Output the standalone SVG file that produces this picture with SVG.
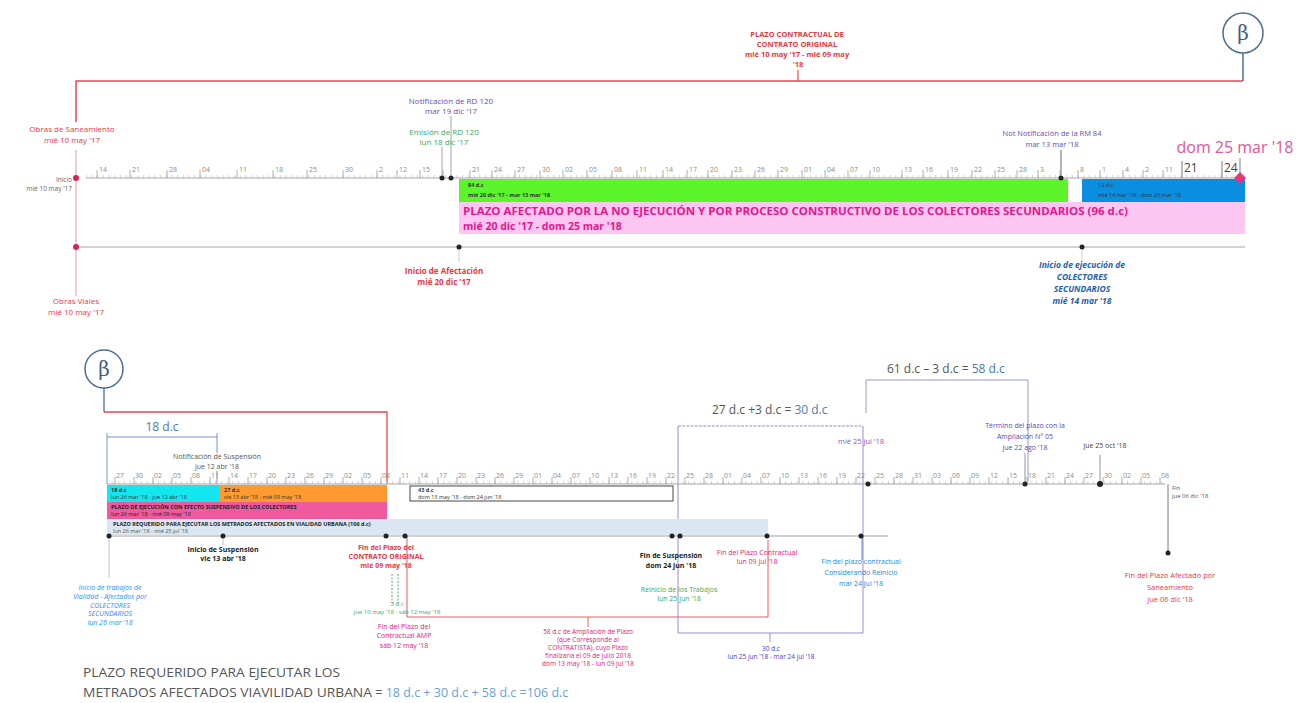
<svg xmlns="http://www.w3.org/2000/svg" width="1299" height="703" viewBox="0 0 1299 703">
<style>
text{font-family:"Open Sans","Liberation Sans",sans-serif}
.tk{font-size:7px;fill:#8c8c8c}
.ax{stroke:#a6a6a6;stroke-width:1.2;fill:none}
.tkl{stroke:#9a9a9a;stroke-width:0.8;fill:none}
.minor{stroke:#cacaca;stroke-width:3;stroke-dasharray:0.8 4.9;fill:none}
.c{text-anchor:middle}
.red{fill:#e8383d}
.mag{fill:#e4167a}
.grn{fill:#3aa85a}
.pur{fill:#6a4aa8}
.bar{font-size:5.5px;fill:#333}
.barb{font-size:5.5px;fill:#222;font-weight:bold}
.dot{fill:#222}
.rdot{fill:#d8235a}
.thin{stroke-width:0.9;fill:none}
.beta{font-family:"DejaVu Serif","Liberation Serif",serif;font-size:20px;fill:#3f5f86;text-anchor:middle}
.dim{font-size:12px;fill:#555}
.blu{fill:#4a7ac0}
</style>

<!-- ===== Upper timeline ===== -->
<g id="connectors-top">
  <path d="M76,122 V81 H1243" stroke="#e8484d" stroke-width="1.5" fill="none"/>
  <path d="M1243,53 V81" stroke="#4d6f96" stroke-width="1.5" fill="none"/>
  <path d="M798,70 V81" stroke="#e8484d" stroke-width="1.2" fill="none"/>
  <path d="M76,150 V296" stroke="#d8b0b8" stroke-width="1.2" fill="none"/>
  <path d="M451,116 V175 M442,147 V175" stroke="#9a9a9a" class="thin"/>
  <path d="M1061,150 V175" stroke="#555" class="thin"/>
  <path d="M1240,158 V173" stroke="#777" class="thin"/>
  <path d="M459,247 V262 M1082,250 V262" stroke="#ccc" class="thin"/>
</g>

<g id="beta-top">
  <circle cx="1243" cy="33" r="20" fill="#fff" stroke="#4d6f96" stroke-width="1.5"/>
  <text x="1243" y="40" class="beta">β</text>
</g>

<g id="plazo-contractual">
  <text class="c red" font-size="7.5" font-weight="bold">
    <tspan x="798" y="37">PLAZO CONTRACTUAL DE</tspan>
    <tspan x="798" y="47">CONTRATO ORIGINAL</tspan>
    <tspan x="798" y="57">mié 10 may '17 - mié 09 may</tspan>
    <tspan x="798" y="67">'18</tspan>
  </text>
</g>

<g id="obras-saneamiento">
  <text class="c red" font-size="8"><tspan x="72" y="132">Obras de Saneamiento</tspan><tspan x="72" y="143">mié 10 may '17</tspan></text>
</g>

<g id="inicio">
  <text font-size="6.5" fill="#666" text-anchor="end"><tspan x="72" y="182">Inicio</tspan><tspan x="72" y="191">mié 10 may '17</tspan></text>
</g>

<g id="notificacion-rd">
  <text class="c pur" font-size="8"><tspan x="451" y="104">Notificación de RD 120</tspan><tspan x="451" y="114">mar 19 dic '17</tspan></text>
</g>
<g id="emision-rd">
  <text class="c grn" font-size="8"><tspan x="444" y="135">Emisión de RD 120</tspan><tspan x="444" y="145">lun 18 dic '17</tspan></text>
</g>
<g id="notificacion-rm">
  <text class="c pur" font-size="7.5"><tspan x="1052" y="136">Not Notificación de la RM 84</tspan><tspan x="1052" y="147">mar 13 mar '18</tspan></text>
</g>
<g id="fecha-fin-top">
  <text x="1235" y="153" class="c" font-size="16" fill="#e4559a">dom 25 mar '18</text>
</g>

<g id="axis-top">
  <path class="minor" d="M86,176.5 H1245"/>
  <path class="ax" d="M86,178 H1245"/>
  <path class="tkl" d="M97,170V178M130,170V178M167,170V178M200,170V178M237,170V178M273,170V178M307,170V178M343,170V178M377,170V178M397,170V178M420,170V178M443,170V178M470,170V178M492,170V178M515,170V178M540,170V178M563,170V178M587,170V178M612,170V178M637,170V178M663,170V178M687,170V178M708,170V178M732,170V178M755,170V178M778,170V178M802,170V178M825,170V178M848,170V178M870,170V178M902,170V178M923,170V178M948,170V178M972,170V178M995,170V178M1017,170V178M1038,170V178M1060,170V178M1078,170V178M1100,170V178M1123,170V178M1143,170V178M1163,170V178"/>
  <path d="M1182,161V178M1222,161V178" stroke="#777" stroke-width="1" fill="none"/>
  <g class="tk">
    <text x="99" y="172">14</text><text x="132" y="172">21</text><text x="169" y="172">28</text><text x="202" y="172">04</text><text x="239" y="172">11</text><text x="275" y="172">18</text><text x="309" y="172">25</text><text x="345" y="172">30</text><text x="379" y="172">2</text><text x="399" y="172">12</text><text x="422" y="172">15</text>
    <text x="472" y="172">21</text><text x="494" y="172">24</text><text x="517" y="172">27</text><text x="542" y="172">30</text><text x="565" y="172">02</text><text x="589" y="172">05</text><text x="614" y="172">08</text><text x="639" y="172">11</text><text x="665" y="172">14</text><text x="689" y="172">17</text><text x="710" y="172">20</text><text x="734" y="172">23</text><text x="757" y="172">26</text><text x="780" y="172">29</text><text x="804" y="172">01</text><text x="827" y="172">04</text><text x="850" y="172">07</text><text x="872" y="172">10</text><text x="904" y="172">13</text><text x="925" y="172">16</text><text x="950" y="172">19</text><text x="974" y="172">22</text><text x="997" y="172">25</text><text x="1019" y="172">28</text><text x="1040" y="172">3</text><text x="1080" y="172">8</text><text x="1102" y="172">1</text><text x="1125" y="172">4</text><text x="1145" y="172">2</text><text x="1165" y="172">11</text>
  </g>
  <text x="1184" y="172" font-size="12" fill="#444">21</text>
  <text x="1224" y="172" font-size="12" fill="#444">24</text>
</g>

<g id="barra-84dc">
  <rect x="459" y="179" width="609" height="23" fill="#5cf52c"/>
  <text class="bar" font-weight="bold"><tspan x="468" y="187">84 d.c</tspan><tspan x="468" y="197">mié 20 dic '17 - mar 13 mar '18</tspan></text>
</g>
<g id="barra-12dc">
  <rect x="1082" y="179" width="163" height="23" fill="#0a8ee0"/>
  <text class="bar" fill="#123"><tspan x="1098" y="187">12 d.c</tspan><tspan x="1098" y="197">mié 14 mar '18 - dom 25 mar '18</tspan></text>
</g>
<g id="barra-plazo-afectado">
  <rect x="459" y="202" width="786" height="32" fill="#fcc6f2"/>
  <text x="463" y="215" font-size="10.5" font-weight="bold" fill="#e4168c" textLength="665" lengthAdjust="spacingAndGlyphs">PLAZO AFECTADO POR LA NO EJECUCIÓN Y POR PROCESO CONSTRUCTIVO DE LOS COLECTORES SECUNDARIOS (96 d.c)</text>
  <text x="463" y="230" font-size="10.5" font-weight="bold" fill="#e4168c">mié 20 dic '17 - dom 25 mar '18</text>
</g>

<g id="axis-top-lower">
  <path class="ax" d="M76,247 H1245"/>
</g>
<g id="hitos-top">
  <circle cx="76" cy="178" r="3" class="rdot"/>
  <circle cx="76" cy="247" r="3" class="rdot"/>
  <circle cx="442" cy="178" r="2.5" class="dot"/>
  <circle cx="451" cy="178" r="2.5" class="dot"/>
  <circle cx="1061" cy="178" r="2.5" class="dot"/>
  <circle cx="459" cy="247" r="2.5" class="dot"/>
  <circle cx="1082" cy="247" r="2.5" class="dot"/>
  <polygon points="1240,172 1246,178 1240,184 1234,178" fill="#e43a7a"/>
</g>

<g id="inicio-afectacion">
  <text class="c red" font-size="8" font-weight="bold"><tspan x="444" y="274">Inicio de Afectación</tspan><tspan x="444" y="285">mié 20 dic '17</tspan></text>
</g>
<g id="inicio-colectores">
  <text class="c" font-size="8.5" font-weight="bold" font-style="italic" fill="#1e5fa8"><tspan x="1082" y="268">Inicio de ejecución de</tspan><tspan x="1082" y="280">COLECTORES</tspan><tspan x="1082" y="292">SECUNDARIOS</tspan><tspan x="1082" y="304">mié 14 mar '18</tspan></text>
</g>
<g id="obras-viales">
  <text class="c red" font-size="8"><tspan x="76" y="304">Obras Viales</tspan><tspan x="76" y="315">mié 10 may '17</tspan></text>
</g>

<!-- ===== Lower timeline ===== -->
<g id="connectors-bottom">
  <path d="M104,412 H387 V484" stroke="#e8484d" stroke-width="1.3" fill="none"/>
  <path d="M104,388 V412" stroke="#4d6f96" stroke-width="1.3" fill="none"/>
  <path d="M107,437 H217 M107,433 V484 M217,433 V453 M217,471 V484" stroke="#6a8ac0" class="thin"/>
  <path d="M109,536 V578 M223,536 V545" stroke="#bbb" class="thin"/>
  <path d="M407,536 V617 H768 V540" stroke="#e8484d" class="thin"/>
  <path d="M392,574 V603 M398,574 V603" stroke="#3aa85a" stroke-width="0.9" stroke-dasharray="2 1.5" fill="none"/>
  <path d="M588,617 V627" stroke="#e8484d" class="thin"/>
  <path d="M678,426 V633 H863 V426" stroke="#8a80d0" class="thin"/>
  <path d="M678,426 H862" stroke="#8a90d0" stroke-width="1" stroke-dasharray="3 1.2" fill="none"/>
  <path d="M770,633 V642" stroke="#8a80d0" class="thin"/>
  <path d="M866,380 V413 M866,380 H1028 V482" stroke="#8a90c8" class="thin"/>
  <path d="M862,538 V560" stroke="#3a8ad8" class="thin"/>
  <path d="M1025,453 V482 M1100,455 V482" stroke="#888" class="thin"/>
  <path d="M1168,484 V553" stroke="#666" class="thin"/>
</g>

<g id="beta-bottom">
  <circle cx="104" cy="369" r="19" fill="#fff" stroke="#4d6f96" stroke-width="1.5"/>
  <text x="104" y="376" class="beta">β</text>
</g>

<g id="dim-18dc">
  <text x="162" y="431" class="c blu" font-size="12">18 d.c</text>
</g>
<g id="notificacion-suspension">
  <text class="c" font-size="7" fill="#555"><tspan x="217" y="459">Notificación de Suspensión</tspan><tspan x="217" y="469">jue 12 abr '18</tspan></text>
</g>
<g id="dim-30dc">
  <text x="712" y="414" class="dim">27 d.c +3 d.c = <tspan class="blu">30 d.c</tspan></text>
</g>
<g id="dim-58dc">
  <text x="887" y="373" class="dim">61 d.c – 3 d.c = <tspan class="blu">58 d.c</tspan></text>
</g>

<g id="axis-bottom">
  <path class="minor" d="M107,482.5 H1165"/>
  <path class="ax" d="M107,484 H1165"/>
  <path class="tkl" d="M115,477V484M134,477V484M153,477V484M172,477V484M191,477V484M210,477V484M229,477V484M248,477V484M267,477V484M286,477V484M305,477V484M324,477V484M343,477V484M362,477V484M381,477V484M400,477V484M419,477V484M438,477V484M457,477V484M476,477V484M495,477V484M514,477V484M533,477V484M552,477V484M571,477V484M590,477V484M609,477V484M628,477V484M647,477V484M666,477V484M685,477V484M704,477V484M723,477V484M742,477V484M761,477V484M780,477V484M799,477V484M818,477V484M837,477V484M856,477V484M875,477V484M894,477V484M913,477V484M932,477V484M951,477V484M970,477V484M989,477V484M1008,477V484M1027,477V484M1046,477V484M1065,477V484M1084,477V484M1103,477V484M1122,477V484M1141,477V484M1160,477V484"/>
  <g class="tk">
    <text x="116" y="478">27</text><text x="135" y="478">30</text><text x="154" y="478">02</text><text x="173" y="478">05</text><text x="192" y="478">08</text><text x="211" y="478">11</text><text x="230" y="478">14</text><text x="249" y="478">17</text><text x="268" y="478">20</text><text x="287" y="478">23</text><text x="306" y="478">26</text><text x="325" y="478">29</text><text x="344" y="478">02</text><text x="363" y="478">05</text><text x="382" y="478">08</text><text x="401" y="478">11</text><text x="420" y="478">14</text><text x="439" y="478">17</text><text x="458" y="478">20</text><text x="477" y="478">23</text><text x="496" y="478">26</text><text x="515" y="478">29</text><text x="534" y="478">01</text><text x="553" y="478">04</text><text x="572" y="478">07</text><text x="591" y="478">10</text><text x="610" y="478">13</text><text x="629" y="478">16</text><text x="648" y="478">19</text><text x="667" y="478">22</text><text x="686" y="478">25</text><text x="705" y="478">28</text><text x="724" y="478">01</text><text x="743" y="478">04</text><text x="762" y="478">07</text><text x="781" y="478">10</text><text x="800" y="478">13</text><text x="819" y="478">16</text><text x="838" y="478">19</text><text x="857" y="478">22</text><text x="876" y="478">25</text><text x="895" y="478">28</text><text x="914" y="478">31</text><text x="933" y="478">03</text><text x="952" y="478">06</text><text x="971" y="478">09</text><text x="990" y="478">12</text><text x="1009" y="478">15</text><text x="1028" y="478">18</text><text x="1047" y="478">21</text><text x="1066" y="478">24</text><text x="1085" y="478">27</text><text x="1104" y="478">30</text><text x="1123" y="478">02</text><text x="1142" y="478">05</text><text x="1161" y="478">08</text>
  </g>
</g>

<g id="barra-18dc">
  <rect x="107" y="485" width="113" height="17" fill="#14e6f0"/>
  <text class="bar"><tspan x="111" y="492" font-weight="bold">18 d.c</tspan><tspan x="111" y="499">lun 26 mar '18 - jue 12 abr '18</tspan></text>
</g>
<g id="barra-27dc">
  <rect x="220" y="485" width="167" height="17" fill="#ff9a30"/>
  <text class="bar"><tspan x="224" y="492" font-weight="bold">27 d.c</tspan><tspan x="224" y="499">vie 13 abr '18 - mié 09 may '18</tspan></text>
</g>
<g id="barra-suspensivo">
  <rect x="107" y="502" width="280" height="17" fill="#ef5a9e"/>
  <text class="barb"><tspan x="111" y="509">PLAZO DE EJECUCIÓN CON EFECTO SUSPENSIVO DE LOS COLECTORES</tspan><tspan x="111" y="516" font-weight="normal">lun 26 mar '18 - mié 09 may '18</tspan></text>
</g>
<g id="barra-requerido">
  <rect x="107" y="519" width="661" height="16" fill="#dae6f2"/>
  <text class="barb"><tspan x="113" y="526">PLAZO REQUERIDO PARA EJECUTAR LOS METRADOS AFECTADOS EN VIALIDAD URBANA (106 d.c)</tspan><tspan x="113" y="533" font-weight="normal" fill="#555">lun 26 mar '18 - mié 25 jul '18</tspan></text>
</g>
<g id="barra-43dc">
  <rect x="410" y="486" width="263" height="15" fill="#fff" stroke="#333" stroke-width="0.9"/>
  <text class="bar"><tspan x="418" y="492" font-weight="bold">43 d.c</tspan><tspan x="418" y="499">dom 13 may '18 - dom 24 jun '18</tspan></text>
</g>

<g id="axis-bottom-lower">
  <path class="ax" d="M107,536 H888"/>
</g>
<g id="hitos-bottom">
  <circle cx="109" cy="536" r="2.5" class="dot"/>
  <circle cx="223" cy="536" r="2.5" class="dot"/>
  <circle cx="386" cy="536" r="2.5" class="dot"/>
  <circle cx="405" cy="536" r="2.5" class="dot"/>
  <circle cx="672" cy="536" r="2.5" class="dot"/>
  <circle cx="680" cy="536" r="2.5" class="dot"/>
  <circle cx="767" cy="536" r="2.5" class="dot"/>
  <circle cx="861" cy="536" r="2.5" class="dot"/>
  <circle cx="868" cy="484" r="2.5" class="dot"/>
  <circle cx="1025" cy="484" r="2.5" class="dot"/>
  <circle cx="1100" cy="484" r="3" class="dot"/>
  <circle cx="1168" cy="553" r="2.5" class="dot"/>
</g>

<g id="inicio-suspension">
  <text class="c" font-size="7" font-weight="bold" fill="#222"><tspan x="223" y="552">Inicio de Suspensión</tspan><tspan x="223" y="561">vie 13 abr '18</tspan></text>
</g>
<g id="fin-contrato-original">
  <text class="c red" font-size="7" font-weight="bold"><tspan x="386" y="550">Fin del Plazo del</tspan><tspan x="386" y="559">CONTRATO ORIGINAL</tspan><tspan x="386" y="568">mié 09 may '18</tspan></text>
</g>
<g id="ampliacion-3dc">
  <text class="c grn" font-size="6"><tspan x="397" y="606">3 d.c</tspan><tspan x="397" y="614">jue 10 may '18 - sáb 12 may '18</tspan></text>
</g>
<g id="fin-contractual-amp">
  <text class="c mag" font-size="7"><tspan x="404" y="629">Fin del Plazo del</tspan><tspan x="404" y="638">Contractual AMP</tspan><tspan x="404" y="648">sáb 12 may '18</tspan></text>
</g>
<g id="ampliacion-contratista">
  <text class="c mag" font-size="6.5"><tspan x="588" y="634">58 d.c de Ampliación de Plazo</tspan><tspan x="588" y="642">(que Corresponde al</tspan><tspan x="588" y="650">CONTRATISTA), cuyo Plazo</tspan><tspan x="588" y="658">finalizaría el 09 de julio 2018</tspan><tspan x="588" y="666">dom 13 may '18 - lun 09 jul '18</tspan></text>
</g>
<g id="fin-suspension">
  <text class="c" font-size="7" font-weight="bold" fill="#222"><tspan x="671" y="558">Fin de Suspensión</tspan><tspan x="671" y="568">dom 24 jun '18</tspan></text>
</g>
<g id="reinicio">
  <text class="c grn" font-size="7"><tspan x="679" y="592">Reinicio de los Trabajos</tspan><tspan x="679" y="601">lun 25 jun '18</tspan></text>
</g>
<g id="fin-plazo-contractual">
  <text class="c mag" font-size="7"><tspan x="757" y="555">Fin del Plazo Contractual</tspan><tspan x="757" y="564">lun 09 jul '18</tspan></text>
</g>
<g id="periodo-30dc">
  <text class="c" font-size="6.5" fill="#4a3ac0"><tspan x="771" y="651">30 d.c</tspan><tspan x="771" y="659">lun 25 jun '18 - mar 24 jul '18</tspan></text>
</g>
<g id="fecha-25jul">
  <text x="838" y="444" font-size="7.5" fill="#8a5ab0">mié 25 jul '18</text>
</g>
<g id="fin-plazo-reinicio">
  <text class="c" font-size="7" fill="#1a8ae0"><tspan x="861" y="564">Fin del plazo contractual</tspan><tspan x="861" y="575">Considerando Reinicio</tspan><tspan x="861" y="586">mar 24 jul '18</tspan></text>
</g>
<g id="termino-ampliacion">
  <text class="c" font-size="7" fill="#5a48b0"><tspan x="1025" y="428">Término del plazo con la</tspan><tspan x="1025" y="439">Ampliación N° 05</tspan><tspan x="1025" y="450">jue 22 ago '18</tspan></text>
</g>
<g id="fecha-25oct">
  <text x="1105" y="448" class="c" font-size="7" fill="#444">jue 25 oct '18</text>
</g>
<g id="fin-6dic">
  <text font-size="6" fill="#555"><tspan x="1172" y="490">Fin</tspan><tspan x="1172" y="498">jue 06 dic '18</tspan></text>
</g>
<g id="fin-plazo-afectado">
  <text class="c red" font-size="7.5"><tspan x="1170" y="578">Fin del Plazo Afectado por</tspan><tspan x="1170" y="590">Saneamiento</tspan><tspan x="1170" y="602">jue 06 dic '18</tspan></text>
</g>
<g id="inicio-vialidad">
  <text class="c" font-size="7" font-style="italic" fill="#1e90ff"><tspan x="110" y="590">Inicio de trabajos de</tspan><tspan x="110" y="599">Vialidad - Afectados por</tspan><tspan x="110" y="608">COLECTORES</tspan><tspan x="110" y="616">SECUNDARIOS</tspan><tspan x="110" y="625">lun 26 mar '18</tspan></text>
</g>

<g id="resumen">
  <text x="83" y="677" font-size="12.5" fill="#555" textLength="257" lengthAdjust="spacingAndGlyphs">PLAZO REQUERIDO PARA EJECUTAR LOS</text>
  <text x="83" y="697" font-size="12.5" fill="#555"><tspan textLength="289" lengthAdjust="spacingAndGlyphs">METRADOS AFECTADOS VIAVILIDAD URBANA</tspan> = <tspan fill="#6a9fd8">18 d.c + 30 d.c + 58 d.c =106 d.c</tspan></text>
</g>
</svg>
